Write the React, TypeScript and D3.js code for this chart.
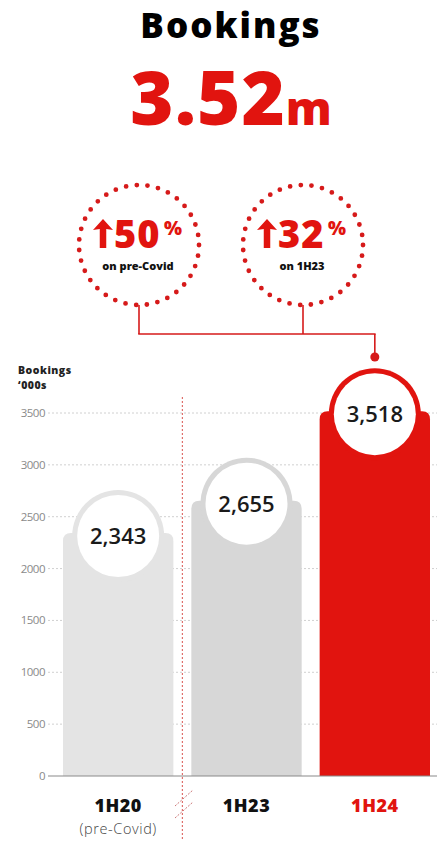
import React from "react";
import * as d3 from "d3";

const categories = ["1H20", "1H23", "1H24"];
const subLabels = ["(pre-Covid)", "", ""];
const values = [2343, 2655, 3518];
const valueLabels = ["2,343", "2,655", "3,518"];
const barColors = ["#e4e4e4", "#d7d7d7", "#e1140f"];
const labelColors = ["#111", "#111", "#e1140f"];
const tickValues = [0, 500, 1000, 1500, 2000, 2500, 3000, 3500];
const growthPct = ["50", "32"];
const growthText = ["on pre-Covid", "on 1H23"];

const W = 437;
const H = 841;
const FONT = "'Open Sans', 'DejaVu Sans', sans-serif";
const RED = "#e1140f";

function topRoundedBar(x0: number, x1: number, yTop: number, yBot: number, r: number) {
  const p = d3.path();
  p.moveTo(x0, yBot);
  p.lineTo(x0, yTop + r);
  p.quadraticCurveTo(x0, yTop, x0 + r, yTop);
  p.lineTo(x1 - r, yTop);
  p.quadraticCurveTo(x1, yTop, x1, yTop + r);
  p.lineTo(x1, yBot);
  p.closePath();
  return p.toString();
}

function arrowPath(x: number, baseY: number, h: number) {
  const w = 20;
  const shaft = 6.5;
  const head = 11;
  const cx = x + w / 2;
  const p = d3.path();
  p.moveTo(cx, baseY - h);
  p.lineTo(x + w, baseY - h + head);
  p.lineTo(cx + shaft / 2, baseY - h + head - 1);
  p.lineTo(cx + shaft / 2, baseY);
  p.lineTo(cx - shaft / 2, baseY);
  p.lineTo(cx - shaft / 2, baseY - h + head - 1);
  p.lineTo(x, baseY - h + head);
  p.closePath();
  return p.toString();
}

export default function App() {
  const y = d3.scaleLinear().domain([0, 3500]).range([776, 413]);
  const x = d3.scaleBand<string>().domain(categories).range([63, 430]).paddingInner(0.14);
  const bw = x.bandwidth();
  const cx = (c: string) => (x(c) as number) + bw / 2;
  const breakX = ((x(categories[0]) as number) + bw + (x(categories[1]) as number)) / 2;

  const bubbleCx = [139, 303];
  const bubbleCy = 245;
  const bubbleR = 60;
  const connectorY = 334;
  const lastC = cx(categories[2]);

  return (
    <svg width={W} height={H} style={{ position: "absolute", left: 0, top: 0 }}>
      <rect width={W} height={H} fill="#fff" />
      {/* Title */}
      <text x={231} y={38} textAnchor="middle" fontFamily={FONT} fontWeight={800} fontSize={35} fill="#000" letterSpacing={2}>
        Bookings
      </text>
      <text x={231} y={125} textAnchor="middle" fontFamily={FONT} fontWeight={800} fill={RED}>
        <tspan fontSize={74} letterSpacing={1}>3.52</tspan>
        <tspan fontSize={46}>m</tspan>
      </text>

      {/* Growth bubbles */}
      {bubbleCx.map((bx, i) => (
        <g key={i}>
          <circle cx={bx} cy={bubbleCy} r={bubbleR} fill="none" stroke="#d61a1a" strokeWidth={4.8}
            strokeLinecap="round" strokeDasharray={`0 ${(2 * Math.PI * bubbleR) / 35}`} />
          <path d={arrowPath(bx - 46, 248, 29)} fill={RED} />
          <text x={bx - 25} y={248} fontFamily={FONT} fontWeight={800} fontSize={38} fill={RED} letterSpacing={1}>
            {growthPct[i]}
          </text>
          <text x={bx + 25} y={235} fontFamily={FONT} fontWeight={800} fontSize={19} fill={RED}>%</text>
          <text x={bx - 1} y={270} textAnchor="middle" fontFamily={FONT} fontWeight={800} fontSize={11} fill="#111">
            {growthText[i]}
          </text>
          <line x1={bx} x2={bx} y1={bubbleCy + bubbleR} y2={connectorY} stroke="#d61a1a" strokeWidth={1.6} />
        </g>
      ))}
      <line x1={bubbleCx[0] - 0.8} x2={lastC + 0.8} y1={connectorY} y2={connectorY} stroke="#d61a1a" strokeWidth={1.6} />
      <line x1={lastC} x2={lastC} y1={connectorY} y2={357} stroke="#d61a1a" strokeWidth={1.6} />
      <circle cx={lastC} cy={357} r={4.5} fill="#d61a1a" />

      {/* Axis title */}
      <text x={18} y={374} fontFamily={FONT} fontWeight={800} fontSize={10.5} fill="#222" letterSpacing={0.5}>Bookings</text>
      <text x={18} y={389} fontFamily={FONT} fontWeight={800} fontSize={10.5} fill="#222" letterSpacing={0.5}>‘000s</text>

      {/* Grid + ticks */}
      {tickValues.map((t) => (
        <g key={t}>
          {t > 0 && (
            <line x1={48} x2={W} y1={y(t)} y2={y(t)} stroke="#d0d0d0" strokeWidth={1} strokeDasharray="2 2" />
          )}
          <text x={45} y={y(t)} dy="0.35em" textAnchor="end" fontFamily={FONT} fontSize={11.5} fill="#8a8a8a" letterSpacing={-0.5}>
            {t}
          </text>
        </g>
      ))}

      {/* Bars */}
      {categories.map((c, i) => {
        const x0 = x(c) as number;
        const ccx = cx(c);
        const ty = y(values[i]);
        return (
          <g key={c}>
            <path d={topRoundedBar(x0, x0 + bw, ty, y(0), 8)} fill={barColors[i]} />
            <circle cx={ccx} cy={ty + 3} r={46} fill={barColors[i]} />
            <circle cx={ccx} cy={ty + 3} r={41} fill="#fff" />
            <text x={ccx} y={ty + 3} dy="0.36em" textAnchor="middle" fontFamily={FONT} fontWeight={600} fontSize={22} fill="#1a1a1a">
              {valueLabels[i]}
            </text>
            <text x={ccx} y={812} textAnchor="middle" fontFamily={FONT} fontWeight={800} fontSize={18} fill={labelColors[i]} letterSpacing={0.5}>
              {c}
            </text>
            {subLabels[i] && (
              <text x={ccx} y={834} textAnchor="middle" fontFamily={FONT} fontWeight={300} fontSize={14.5} fill="#444" letterSpacing={0.6}>
                {subLabels[i]}
              </text>
            )}
          </g>
        );
      })}

      {/* Baseline */}
      <line x1={48} x2={W} y1={y(0)} y2={y(0)} stroke="#8a8a8a" strokeWidth={1.2} />

      {/* Break line */}
      <line x1={breakX} x2={breakX} y1={397} y2={H} stroke="#d9534f" strokeWidth={1} strokeDasharray="2 2" />
      <line x1={175} x2={193} y1={806} y2={790} stroke="#c77" strokeWidth={1} strokeDasharray="2 1.5" />
      <line x1={175} x2={193} y1={818} y2={802} stroke="#c77" strokeWidth={1} strokeDasharray="2 1.5" />
    </svg>
  );
}
